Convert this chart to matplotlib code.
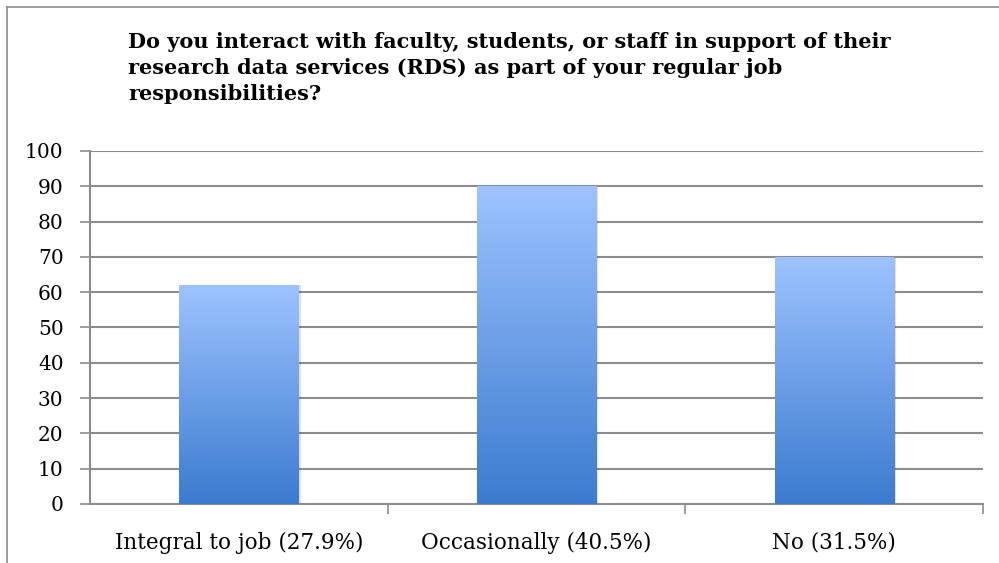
import numpy as np
import matplotlib
matplotlib.use('Agg')
import matplotlib.pyplot as plt
from matplotlib.colors import LinearSegmentedColormap
from matplotlib.patches import Rectangle
from matplotlib.lines import Line2D

title = ("Do you interact with faculty, students, or staff in support of their\n"
         "research data services (RDS) as part of your regular job\n"
         "responsibilities?")
categories = ["Integral to job (27.9%)", "Occasionally (40.5%)", "No (31.5%)"]
counts = [62, 90, 70]
yticks = [0, 10, 20, 30, 40, 50, 60, 70, 80, 90, 100]

plt.rcParams['font.family'] = ['DejaVu Serif']

fig = plt.figure(figsize=(9.99, 5.63), dpi=100)
ax = fig.add_axes([0.090, 0.1048, 0.894, 0.627])

# outer chart border, only top and left edges are in the frame
bx, by = 7 / 999, 1 - 7 / 563
fig.add_artist(Line2D([bx, 1], [by, by], transform=fig.transFigure,
                      color='#8c8c8c', linewidth=1.2))
fig.add_artist(Line2D([bx, bx], [0, by], transform=fig.transFigure,
                      color='#8c8c8c', linewidth=1.2))

grad = LinearSegmentedColormap.from_list('bar', ['#3b7bcf', '#9dc3ff'])
x = np.arange(len(categories))
bars = ax.bar(x, counts, width=0.40, color='none', zorder=3)
g = np.linspace(0, 1, 256).reshape(-1, 1)
for b in bars:
    x0, w, h = b.get_x(), b.get_width(), b.get_height()
    # soft shadow
    ax.add_patch(Rectangle((x0 + 0.008, 0), w, h, facecolor='#000000',
                           alpha=0.12, edgecolor='none', zorder=2))
    im = ax.imshow(g, cmap=grad, origin='lower', aspect='auto',
                   extent=[x0, x0 + w, 0, h], zorder=3)
    im.set_clip_path(b)

ax.set_xlim(-0.5, len(categories) - 0.5)
ax.set_ylim(0, 100)
ax.set_yticks(yticks)
ax.set_yticklabels([str(v) for v in yticks], fontsize=14.5)
ax.set_xticks(x)
ax.set_xticklabels(categories, fontsize=15.5)
ax.tick_params(axis='x', length=0, pad=20)
ax.tick_params(axis='y', length=7, width=1.2, color='#8c8c8c', pad=12)
ax.set_xticks([0.5, 1.5, 2.5], minor=True)
ax.tick_params(axis='x', which='minor', length=7, width=1.2, color='#8c8c8c')
ax.yaxis.grid(True, color='#8c8c8c', linewidth=1.5, zorder=0)
ax.set_axisbelow(True)
for s in ['top', 'right']:
    ax.spines[s].set_visible(False)
for s in ['left', 'bottom']:
    ax.spines[s].set_color('#8c8c8c')
    ax.spines[s].set_linewidth(1.5)

fig.text(128 / 999, 1 - 32 / 563, title, ha='left', va='top',
         fontsize=15, fontweight='bold', linespacing=1.38)

fig.savefig('out.png', dpi=100)
